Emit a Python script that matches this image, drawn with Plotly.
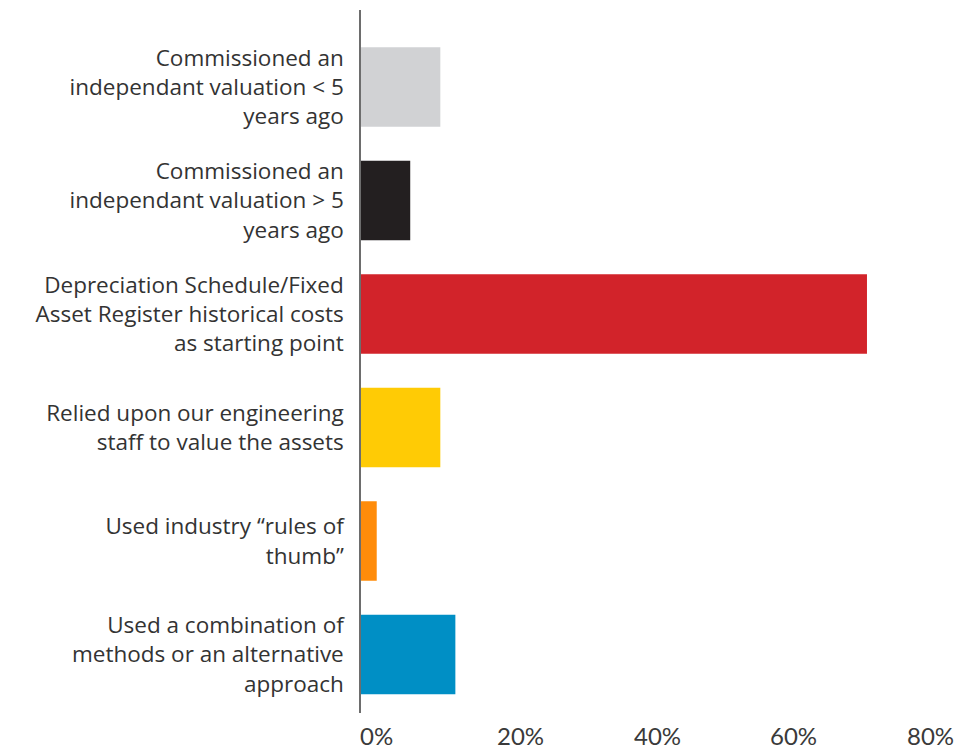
import plotly.graph_objects as go

categories = [
    "Commissioned an<br>independant valuation < 5<br>years ago",
    "Commissioned an<br>independant valuation > 5<br>years ago",
    "Depreciation Schedule/Fixed<br>Asset Register historical costs<br>as starting point",
    "Relied upon our engineering<br>staff to value the assets",
    "Used industry \u201crules of<br>thumb\u201d",
    "Used a combination of<br>methods or an alternative<br>approach",
]
values = [11.6, 7.2, 74.0, 11.6, 2.3, 13.8]
colors = ["#D1D2D4", "#231F20", "#D2232A", "#FFCB05", "#FF8C0A", "#008FC5"]
x_ticks = [0, 20, 40, 60, 80]
x_tick_labels = ["0%", "20%", "40%", "60%", "80%"]

ids = list(range(len(categories)))

fig = go.Figure()
fig.add_trace(go.Bar(
    y=ids, x=values, orientation="h",
    marker=dict(color=colors, line=dict(width=0)),
    width=0.7, hoverinfo="skip",
))

for v, t in zip(x_ticks, x_tick_labels):
    fig.add_annotation(
        x=v, y=0, xref="x", yref="paper", text=t, showarrow=False,
        xanchor="left", yanchor="top", yshift=-6, xshift=-3,
        font=dict(family="Lato", size=24, color="#3a3a3a"),
    )

fig.update_layout(
    width=979, height=750,
    margin=dict(l=361, r=71, t=10, b=37),
    plot_bgcolor="white", paper_bgcolor="white",
    showlegend=False,
    xaxis=dict(range=[0, 80], tickvals=x_ticks, showticklabels=False,
               showgrid=False, zeroline=False, showline=False, fixedrange=True),
    yaxis=dict(range=[5.515, -0.678], tickvals=ids, ticktext=categories,
               showgrid=False, zeroline=False, showline=True,
               linecolor="#6d6d6d", linewidth=1.5, ticks="",
               ticklabelstandoff=11,
               tickfont=dict(family="Open Sans", size=22.5, color="#333333")),
)

fig.write_html("out.html")
